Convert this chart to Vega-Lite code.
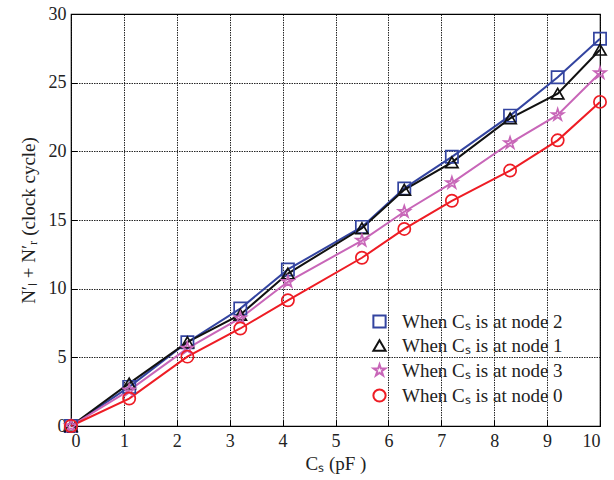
{
  "$schema": "https://vega.github.io/schema/vega-lite/v6.json",
  "width": 529,
  "height": 412,
  "autosize": {"type": "none"},
  "padding": {"left": 71, "top": 14, "right": 14, "bottom": 54},
  "background": "white",
  "config": {
    "view": {"stroke": "black", "strokeWidth": 1.2},
    "font": "Liberation Serif",
    "style": {
      "guide-label": {"font": "Liberation Serif", "fontSize": 18, "fill": "#222"},
      "guide-title": {"font": "Liberation Serif", "fontSize": 19, "fill": "#222", "fontWeight": "normal"}
    },
    "axis": {
      "labelFont": "Liberation Serif",
      "labelFontSize": 18,
      "labelColor": "#222",
      "titleFont": "Liberation Serif",
      "titleFontSize": 19,
      "titleFontWeight": "normal",
      "titleColor": "#222",
      "gridColor": "black",
      "gridDash": [1.5, 1],
      "gridOpacity": 0.85,
      "gridWidth": 1,
      "domain": false,
      "ticks": true,
      "tickColor": "black",
      "tickSize": -6,
      "tickWidth": 1
    },
    "legend": {
      "labelFont": "Liberation Serif",
      "labelFontSize": 19,
      "labelColor": "#222",
      "labelLimit": 0
    }
  },
  "data": {
    "values": [
      {"cs": 0, "v": 0, "s": "When Cₛ is at node 2"},
      {"cs": 1.1, "v": 2.85, "s": "When Cₛ is at node 2"},
      {"cs": 2.2, "v": 6.1, "s": "When Cₛ is at node 2"},
      {"cs": 3.2, "v": 8.55, "s": "When Cₛ is at node 2"},
      {"cs": 4.1, "v": 11.4, "s": "When Cₛ is at node 2"},
      {"cs": 5.5, "v": 14.5, "s": "When Cₛ is at node 2"},
      {"cs": 6.3, "v": 17.3, "s": "When Cₛ is at node 2"},
      {"cs": 7.2, "v": 19.6, "s": "When Cₛ is at node 2"},
      {"cs": 8.3, "v": 22.6, "s": "When Cₛ is at node 2"},
      {"cs": 9.2, "v": 25.4, "s": "When Cₛ is at node 2"},
      {"cs": 10, "v": 28.2, "s": "When Cₛ is at node 2"},
      {"cs": 0, "v": 0, "s": "When Cₛ is at node 1"},
      {"cs": 1.1, "v": 3.1, "s": "When Cₛ is at node 1"},
      {"cs": 2.2, "v": 6.1, "s": "When Cₛ is at node 1"},
      {"cs": 3.2, "v": 8.1, "s": "When Cₛ is at node 1"},
      {"cs": 4.1, "v": 11.1, "s": "When Cₛ is at node 1"},
      {"cs": 5.5, "v": 14.4, "s": "When Cₛ is at node 1"},
      {"cs": 6.3, "v": 17.2, "s": "When Cₛ is at node 1"},
      {"cs": 7.2, "v": 19.2, "s": "When Cₛ is at node 1"},
      {"cs": 8.3, "v": 22.4, "s": "When Cₛ is at node 1"},
      {"cs": 9.2, "v": 24.2, "s": "When Cₛ is at node 1"},
      {"cs": 10, "v": 27.4, "s": "When Cₛ is at node 1"},
      {"cs": 0, "v": 0, "s": "When Cₛ is at node 3"},
      {"cs": 1.1, "v": 2.6, "s": "When Cₛ is at node 3"},
      {"cs": 2.2, "v": 5.65, "s": "When Cₛ is at node 3"},
      {"cs": 3.2, "v": 7.85, "s": "When Cₛ is at node 3"},
      {"cs": 4.1, "v": 10.5, "s": "When Cₛ is at node 3"},
      {"cs": 5.5, "v": 13.5, "s": "When Cₛ is at node 3"},
      {"cs": 6.3, "v": 15.6, "s": "When Cₛ is at node 3"},
      {"cs": 7.2, "v": 17.7, "s": "When Cₛ is at node 3"},
      {"cs": 8.3, "v": 20.6, "s": "When Cₛ is at node 3"},
      {"cs": 9.2, "v": 22.65, "s": "When Cₛ is at node 3"},
      {"cs": 10, "v": 25.7, "s": "When Cₛ is at node 3"},
      {"cs": 0, "v": 0, "s": "When Cₛ is at node 0"},
      {"cs": 1.1, "v": 2.0, "s": "When Cₛ is at node 0"},
      {"cs": 2.2, "v": 5.05, "s": "When Cₛ is at node 0"},
      {"cs": 3.2, "v": 7.1, "s": "When Cₛ is at node 0"},
      {"cs": 4.1, "v": 9.15, "s": "When Cₛ is at node 0"},
      {"cs": 5.5, "v": 12.25, "s": "When Cₛ is at node 0"},
      {"cs": 6.3, "v": 14.35, "s": "When Cₛ is at node 0"},
      {"cs": 7.2, "v": 16.4, "s": "When Cₛ is at node 0"},
      {"cs": 8.3, "v": 18.6, "s": "When Cₛ is at node 0"},
      {"cs": 9.2, "v": 20.8, "s": "When Cₛ is at node 0"},
      {"cs": 10, "v": 23.6, "s": "When Cₛ is at node 0"}
    ]
  },
  "encoding": {
    "x": {
      "field": "cs",
      "type": "quantitative",
      "scale": {"domain": [0, 10], "nice": false, "zero": false},
      "axis": {"values": [0,1,2,3,4,5,6,7,8,9,10], "title": "Cₛ (pF )", "labelFont": "Liberation Serif", "titleFont": "Liberation Serif", "labelPadding": 12, "titlePadding": 4}
    },
    "y": {
      "field": "v",
      "type": "quantitative",
      "scale": {"domain": [0, 30], "nice": false},
      "axis": {"values": [0,5,10,15,20,25,30], "title": "N′ₗ + N′ᵣ  (clock cycle)", "labelFont": "Liberation Serif", "titleFont": "Liberation Serif", "labelPadding": 11, "titlePadding": 10}
    },
    "color": {
      "field": "s",
      "type": "nominal",
      "title": null,
      "scale": {
        "domain": ["When Cₛ is at node 2", "When Cₛ is at node 1", "When Cₛ is at node 3", "When Cₛ is at node 0"],
        "range": ["#3344a0", "#111111", "#c866b8", "#ee1c24"]
      },
      "legend": {
        "orient": "none",
        "legendX": 299,
        "legendY": 298,
        "padding": 0,
        "rowPadding": 4,
        "labelOffset": 13,
        "labelLimit": 0,
        "symbolSize": 100,
        "symbolStrokeWidth": 1.2,
        "symbolFillColor": "transparent",
        "labelFont": "Liberation Serif",
        "labelFontSize": 19
      }
    }
  },
  "layer": [
    {
      "mark": {"type": "line", "strokeWidth": 2},
      "encoding": {
        "strokeWidth": {
          "field": "s",
          "type": "nominal",
          "scale": {
            "domain": ["When Cₛ is at node 2", "When Cₛ is at node 1", "When Cₛ is at node 3", "When Cₛ is at node 0"],
            "range": [2, 2, 1.6, 2]
          },
          "legend": null
        }
      }
    },
    {
      "mark": {"type": "point", "filled": false, "strokeWidth": 1.7, "opacity": 1},
      "encoding": {
        "size": {
          "field": "s",
          "type": "nominal",
          "scale": {
            "domain": ["When Cₛ is at node 2", "When Cₛ is at node 1", "When Cₛ is at node 3", "When Cₛ is at node 0"],
            "range": [150, 150, 230, 150]
          },
          "legend": null
        },
        "shape": {
          "field": "s",
          "type": "nominal",
          "title": null,
          "scale": {
            "domain": ["When Cₛ is at node 2", "When Cₛ is at node 1", "When Cₛ is at node 3", "When Cₛ is at node 0"],
            "range": ["square", "triangle-up", "M0,-1L0.2245,-0.309L0.951,-0.309L0.363,0.118L0.588,0.809L0,0.382L-0.588,0.809L-0.363,0.118L-0.951,-0.309L-0.2245,-0.309Z", "circle"]
          },
          "legend": {
            "orient": "none",
            "legendX": 299,
            "legendY": 298,
            "padding": 0,
            "rowPadding": 4,
            "labelOffset": 13,
            "labelLimit": 0,
            "symbolSize": 100,
            "symbolStrokeWidth": 1.2,
            "symbolFillColor": "transparent",
            "labelFont": "Liberation Serif",
            "labelFontSize": 19
          }
        }
      }
    }
  ]
}
